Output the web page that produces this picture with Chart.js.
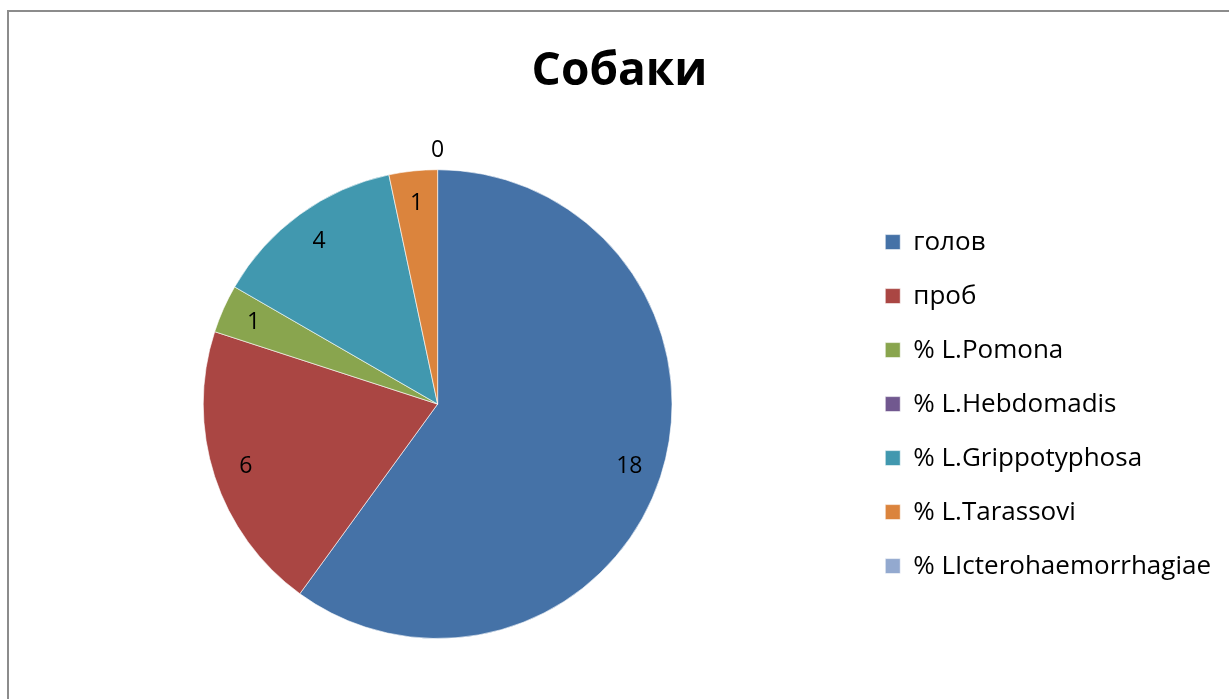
<!DOCTYPE html>
<html lang="ru">
<head>
  <meta charset="UTF-8">
  <title>Собаки</title>
  <script src="https://cdn.jsdelivr.net/npm/chart.js"></script>
  <style>
    html, body { margin: 0; padding: 0; background: #fff; overflow: hidden; }
    .frame {
      position: absolute; left: 7px; top: 10px; width: 1300px; height: 800px;
      border-left: 2px solid #8c8c8c; border-top: 2px solid #8c8c8c;
    }
    #wrap { position: absolute; left: 0; top: 0; width: 1229px; height: 699px; }
  </style>
</head>
<body>
<div class="frame"></div>
<div id="wrap"><canvas id="pieChart"></canvas></div>

<script>
const categories = ['голов', 'проб', '% L.Pomona', '% L.Hebdomadis', '% L.Grippotyphosa', '% L.Tarassovi', '% LIcterohaemorrhagiae'];
const counts = [18, 6, 1, 0, 4, 1, 0];
const sliceColors = ['#4572A7', '#AA4643', '#89A54E', '#71588F', '#4198AF', '#DB843D', '#93A9CF'];
// which data labels are printed on the pie
const showLabel = [true, true, true, false, true, true, true];

const FONT = '"Open Sans", "Noto Sans", sans-serif';

// value labels: inside the slice near the rim, zero slices just outside
const sliceLabels = {
  id: 'sliceLabels',
  afterDatasetsDraw(chart) {
    const ctx = chart.ctx;
    const meta = chart.getDatasetMeta(0);
    ctx.save();
    ctx.font = '23px ' + FONT;
    ctx.fillStyle = '#000';
    ctx.textAlign = 'center';
    ctx.textBaseline = 'middle';
    meta.data.forEach((arc, i) => {
      if (!showLabel[i]) return;
      const p = arc.getProps(['x', 'y', 'startAngle', 'endAngle', 'outerRadius']);
      const mid = (p.startAngle + p.endAngle) / 2;
      const r = counts[i] === 0 ? p.outerRadius * 1.08 : p.outerRadius * 0.86;
      ctx.fillText(String(counts[i]), p.x + Math.cos(mid) * r, p.y + Math.sin(mid) * r);
    });
    ctx.restore();
  }
};

new Chart(document.getElementById('pieChart'), {
  type: 'pie',
  data: {
    labels: categories,
    datasets: [{
      data: counts,
      backgroundColor: sliceColors,
      borderColor: 'rgba(255,255,255,0.6)',
      borderWidth: 1
    }]
  },
  options: {
    responsive: true,
    maintainAspectRatio: false,
    animation: false,
    layout: { padding: { left: 18, right: 8, top: 0, bottom: 60 } },
    plugins: {
      title: {
        display: true,
        text: 'Собаки',
        color: '#000',
        font: { family: FONT, size: 46, weight: 'bold' },
        padding: { top: 44, bottom: 70 }
      },
      legend: {
        position: 'right',
        align: 'center',
        fullSize: false,
        labels: {
          color: '#000',
          font: { family: FONT, size: 26 },
          boxWidth: 15,
          boxHeight: 15,
          padding: 28
        }
      },
      tooltip: { enabled: false }
    }
  },
  plugins: [sliceLabels]
});
</script>
</body>
</html>
